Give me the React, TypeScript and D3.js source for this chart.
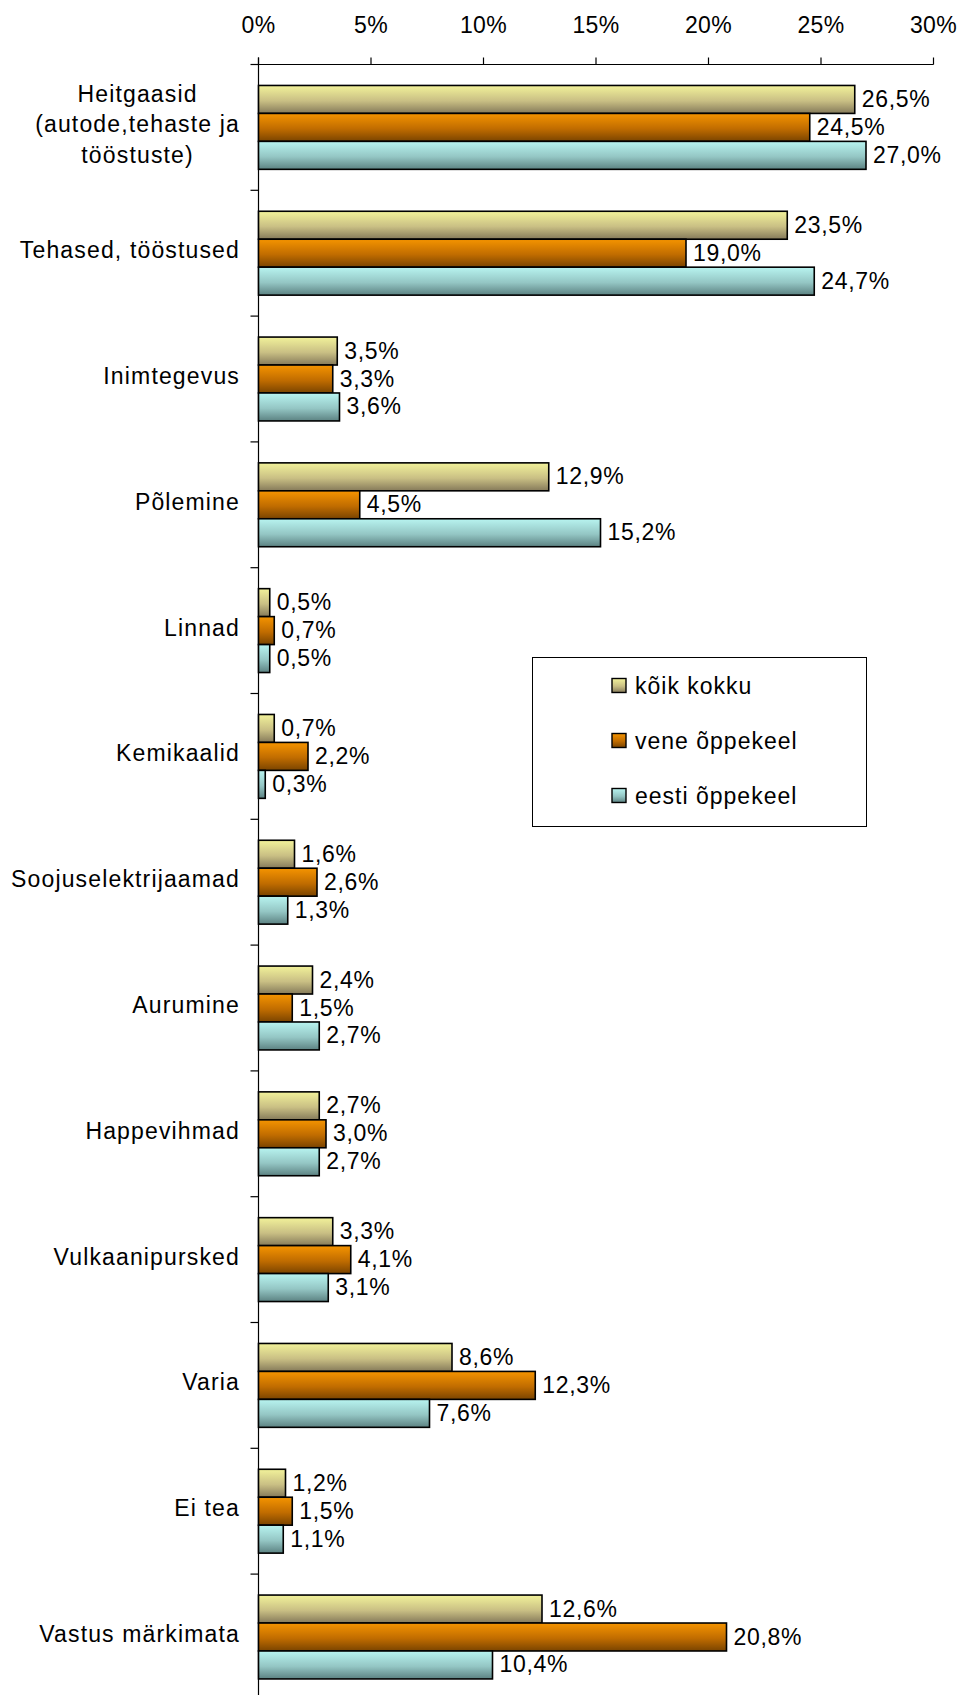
import React from "react";
import * as d3 from "d3";

// Categories (top to bottom)
const categories: string[][] = [
  ["Heitgaasid", "(autode,tehaste ja", "tööstuste)"],
  ["Tehased, tööstused"],
  ["Inimtegevus"],
  ["Põlemine"],
  ["Linnad"],
  ["Kemikaalid"],
  ["Soojuselektrijaamad"],
  ["Aurumine"],
  ["Happevihmad"],
  ["Vulkaanipursked"],
  ["Varia"],
  ["Ei tea"],
  ["Vastus märkimata"],
];

const seriesNames = ["kõik kokku", "vene õppekeel", "eesti õppekeel"];

// Percent values per series, same order as categories
const koikKokku = [26.5, 23.5, 3.5, 12.9, 0.5, 0.7, 1.6, 2.4, 2.7, 3.3, 8.6, 1.2, 12.6];
const veneOppekeel = [24.5, 19.0, 3.3, 4.5, 0.7, 2.2, 2.6, 1.5, 3.0, 4.1, 12.3, 1.5, 20.8];
const eestiOppekeel = [27.0, 24.7, 3.6, 15.2, 0.5, 0.3, 1.3, 2.7, 2.7, 3.1, 7.6, 1.1, 10.4];

const seriesValues = [koikKokku, veneOppekeel, eestiOppekeel];

const xTicks = [0, 5, 10, 15, 20, 25, 30];

// gradient stops per series: [top, middle, bottom]
const seriesGradients = [
  ["#f2f29a", "#c9bf84", "#857a5a"],
  ["#f59400", "#c06c00", "#7a4400"],
  ["#b8f4f0", "#94c6c4", "#5c8282"],
];

const W = 960;
const H = 1695;
const FONT = "'Liberation Sans', Arial, sans-serif";
const FS = 23;
const LABEL_SPACING = 1.15;

const fmt = (v: number) => v.toFixed(1).replace(".", ",") + "%";

function textWidth(s: string): number {
  const c = document.createElement("canvas").getContext("2d");
  if (!c) return s.length * FS * 0.55;
  c.font = `${FS}px ${FONT}`;
  return c.measureText(s).width + s.length * LABEL_SPACING;
}

export default function App() {
  const axisY = 64.5;
  const step = 125.8;
  const x = d3.scaleLinear().domain([0, 30]).range([258.5, 933.5]);
  const y = d3
    .scaleBand<number>()
    .domain(categories.map((_, i) => i))
    .range([axisY, axisY + step * categories.length])
    .paddingInner(0)
    .paddingOuter(0);
  const inner = d3
    .scaleBand<number>()
    .domain([0, 1, 2])
    .range([0, y.bandwidth()])
    .paddingInner(0)
    .paddingOuter(0.75);

  const labelRight = 240;

  return (
    <svg
      width={W}
      height={H}
      style={{ position: "absolute", left: 0, top: 0, display: "block", background: "#fff" }}
      fontFamily={FONT}
    >
      <defs>
        {seriesGradients.map((g, i) => (
          <linearGradient key={i} id={`grad${i}`} x1="0" y1="0" x2="0" y2="1">
            <stop offset="0%" stopColor={g[0]} />
            <stop offset="55%" stopColor={g[1]} />
            <stop offset="100%" stopColor={g[2]} />
          </linearGradient>
        ))}
      </defs>

      {/* value axis on top */}
      <line x1={x(0)} x2={x(30)} y1={axisY} y2={axisY} stroke="#000" strokeWidth={1.2} />
      {xTicks.map((t) => (
        <g key={t}>
          <line x1={x(t)} x2={x(t)} y1={axisY} y2={axisY - 7} stroke="#000" strokeWidth={1.2} />
          <text x={x(t)} y={33} textAnchor="middle" fontSize={FS} letterSpacing={0.3}>
            {t}%
          </text>
        </g>
      ))}

      {/* category axis */}
      <line x1={x(0)} x2={x(0)} y1={axisY - 7} y2={H + 10} stroke="#000" strokeWidth={1.2} />
      {categories.map((_, i) => (
        <line
          key={i}
          x1={x(0) - 8}
          x2={x(0)}
          y1={(y(i) as number)}
          y2={(y(i) as number)}
          stroke="#000"
          strokeWidth={1.2}
        />
      ))}

      {/* category labels */}
      {categories.map((lines, i) => {
        const cy = (y(i) as number) + y.bandwidth() / 2;
        const lh = 30.5;
        const maxW = Math.max(...lines.map(textWidth));
        const multi = lines.length > 1;
        const cx = multi ? labelRight - maxW / 2 : labelRight;
        return (
          <text
            key={i}
            fontSize={FS}
            letterSpacing={LABEL_SPACING}
            textAnchor={multi ? "middle" : "end"}
            fill="#000"
          >
            {lines.map((ln, k) => (
              <tspan key={k} x={cx} y={cy + 5 + (k - (lines.length - 1) / 2) * lh}>
                {ln}
              </tspan>
            ))}
          </text>
        );
      })}

      {/* bars */}
      {categories.map((_, i) =>
        seriesValues.map((vals, s) => {
          const v = vals[i];
          const by = (y(i) as number) + (inner(s) as number);
          const bh = inner.bandwidth();
          return (
            <g key={`${i}-${s}`}>
              <rect
                x={x(0)}
                y={by}
                width={x(v) - x(0)}
                height={bh}
                fill={`url(#grad${s})`}
                stroke="#000"
                strokeWidth={1.6}
              />
              <text x={x(v) + 7} y={by + bh / 2 + 7.5} fontSize={FS} letterSpacing={0.7}>
                {fmt(v)}
              </text>
            </g>
          );
        })
      )}

      {/* legend */}
      <rect x={532.5} y={657.5} width={334} height={169} fill="#fff" stroke="#000" strokeWidth={1} />
      {seriesNames.map((name, s) => {
        const cy = 685.5 + s * 55;
        return (
          <g key={name}>
            <rect
              x={612}
              y={cy - 7}
              width={14}
              height={14}
              fill={`url(#grad${s})`}
              stroke="#000"
              strokeWidth={1.4}
            />
            <text x={635} y={cy + 8} fontSize={FS} letterSpacing={1}>
              {name}
            </text>
          </g>
        );
      })}
    </svg>
  );
}
